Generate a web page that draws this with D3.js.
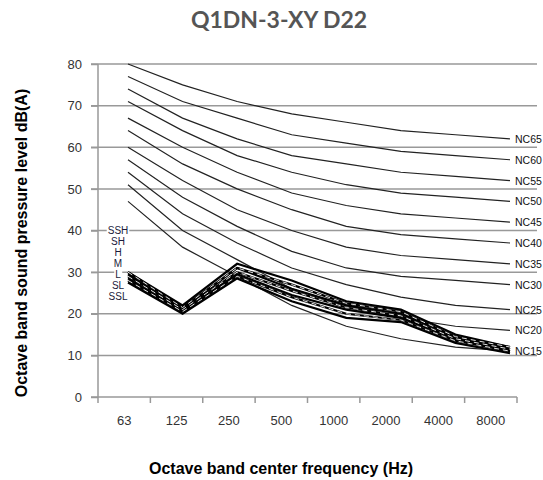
<!DOCTYPE html>
<html><head><meta charset="utf-8">
<script src="https://cdn.jsdelivr.net/npm/d3@7"></script>
<style>body{margin:0;background:#fff}svg{display:block}</style>
</head><body>
<svg id="c" width="543" height="480"></svg>
<script>
const categories = ["63","125","250","500","1000","2000","4000","8000"];
const yTicks = [0,10,20,30,40,50,60,70,80];
const ncNames = ["NC65","NC60","NC55","NC50","NC45","NC40","NC35","NC30","NC25","NC20","NC15"];
const nc65 = [80,75,71,68,66,64,63,62];
const nc60 = [77,71,67,63,61,59,58,57];
const nc55 = [74,67,62,58,56,54,53,52];
const nc50 = [71,64,58,54,51,49,48,47];
const nc45 = [67,60,54,49,46,44,43,42];
const nc40 = [64,56,50,45,41,39,38,37];
const nc35 = [60,52,45,40,36,34,33,32];
const nc30 = [57,48,41,35,31,29,28,27];
const nc25 = [54,44,37,31,27,24,22,21];
const nc20 = [51,40,33,26,22,19,17,16];
const nc15 = [47,36,29,22,17,14,12,11];
const seriesNames = ["SSH","SH","H","M","L","SL","SSL"];
const ssh = [30,22,32,28,23,21,15,12];
const sh  = [30,21.5,31,27,22.5,20.5,14.5,12];
const hh  = [29.5,21,31,26,22,20,14.5,11.5];
const mm  = [29,21,30,25.5,21.5,19.5,14,11.5];
const ll  = [28.5,20.5,29.5,24.5,21,19,14,11];
const sl  = [28,20.5,29,24,20,18.5,13.5,11];
const ssl = [27.5,20,28.5,23,19,18,13,10.5];

const ncSeries = [nc65,nc60,nc55,nc50,nc45,nc40,nc35,nc30,nc25,nc20,nc15];
const dataSeries = [ssh,sh,hh,mm,ll,sl,ssl];

const svg = d3.select("#c");
const y = d3.scaleLinear().domain([0,80]).range([397,64]);
const xBand = d3.scaleBand().domain(categories).range([98,517]);
const xPt = d3.scalePoint().domain(categories).range([128,510]);

// title
svg.append("text").attr("x",279).attr("y",28).attr("text-anchor","middle")
  .attr("font-family","Lato, 'Open Sans', sans-serif").attr("font-weight","bold")
  .attr("font-size",23).attr("fill","#555").text("Q1DN-3-XY D22");

// gridlines
svg.append("g").selectAll("line").data(yTicks.filter(d=>d>0)).join("line")
  .attr("x1",91).attr("x2",537).attr("y1",d=>y(d)).attr("y2",d=>y(d))
  .attr("stroke","#999").attr("stroke-width",1.5);

// y axis
const ya = svg.append("g").attr("transform","translate(98,0)")
  .call(d3.axisLeft(y).tickValues(yTicks).tickSize(7).tickPadding(9));
ya.select(".domain").attr("stroke","#999").attr("stroke-width",1.5).attr("d","M0,64V397");
ya.selectAll(".tick line").attr("stroke","#999").attr("stroke-width",1.5);
ya.selectAll("text").attr("font-family","'Liberation Sans', Arial, sans-serif").attr("font-size",13).attr("fill","#333");

// x axis
const xa = svg.append("g").attr("transform","translate(0,397)")
  .call(d3.axisBottom(xBand).tickSize(0).tickPadding(19));
xa.select(".domain").attr("stroke","#999").attr("stroke-width",1.5).attr("d","M91,0H517");
xa.selectAll("text").attr("font-family","'Liberation Sans', Arial, sans-serif").attr("font-size",13).attr("fill","#333")
  .attr("dy","0.71em");
svg.append("g").selectAll("line").data(categories.concat(["end"])).join("line")
  .attr("x1",(d,i)=> i<categories.length ? xBand(d) : xBand.range()[1])
  .attr("x2",(d,i)=> i<categories.length ? xBand(d) : xBand.range()[1])
  .attr("y1",397).attr("y2",403).attr("stroke","#999").attr("stroke-width",1.5);

// NC curves
const line = d3.line().x((d,i)=>xPt(categories[i])).y(d=>y(d));
svg.append("g").selectAll("path").data(ncSeries).join("path")
  .attr("d",line).attr("fill","none").attr("stroke","#222").attr("stroke-width",1.2);
svg.append("g").selectAll("text").data(ncSeries).join("text")
  .attr("x",515).attr("y",d=>y(d[d.length-1])+4)
  .attr("font-family","'Liberation Sans', Arial, sans-serif").attr("font-size",10.5).attr("fill","#111")
  .text((d,i)=>ncNames[i]);

// data series
const dg = svg.append("g");
dataSeries.forEach((s,i)=>{
  dg.append("path").attr("d",line(s)).attr("fill","none").attr("stroke","#000").attr("stroke-width",2.2)
    .attr("stroke-linejoin","miter");
});
dataSeries.forEach((s,i)=>{
  if(i%2===1) dg.append("path").attr("d",line(s)).attr("fill","none").attr("stroke","#fff")
    .attr("stroke-width",0.9).attr("stroke-dasharray","5,4");
});

// series labels
const lg = svg.append("g");
seriesNames.forEach((n,i)=>{
  lg.append("text").attr("x",118).attr("y",234+i*11).attr("text-anchor","middle")
    .attr("font-family","'Liberation Sans', Arial, sans-serif").attr("font-size",10).attr("fill","#1a1a3a").text(n);
});
lg.selectAll("text").each(function(){
  const b = this.getBBox();
  lg.insert("rect","text").attr("x",b.x-1).attr("y",b.y+1).attr("width",b.width+2).attr("height",b.height-2).attr("fill","#fff");
});

// axis titles
svg.append("text").attr("transform","translate(27,243) rotate(-90)").attr("text-anchor","middle")
  .attr("font-family","'Liberation Sans', Arial, sans-serif").attr("font-weight","bold").attr("font-size",16)
  .attr("fill","#000").text("Octave band sound pressure level dB(A)");
svg.append("text").attr("x",281).attr("y",474).attr("text-anchor","middle")
  .attr("font-family","'Liberation Sans', Arial, sans-serif").attr("font-weight","bold").attr("font-size",16)
  .attr("fill","#000").text("Octave band center frequency (Hz)");
</script>
</body></html>
